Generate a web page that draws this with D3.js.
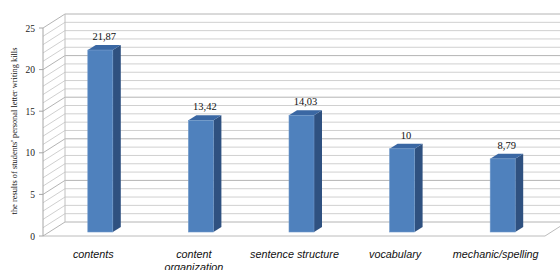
<!DOCTYPE html>
<html>
<head>
<meta charset="utf-8">
<script src="https://cdn.jsdelivr.net/npm/d3@7"></script>
<style>
  body { margin: 0; background: #fff; }
  svg { display: block; }
</style>
</head>
<body>
<svg id="chart" width="560" height="270"></svg>
<script>
// data
const categories = ["contents", "content organization", "sentence structure", "vocabulary", "mechanic/spelling"];
const scores = [21.87, 13.42, 14.03, 10, 8.79];
const valueLabels = ["21,87", "13,42", "14,03", "10", "8,79"];
const yTicks = [0, 5, 10, 15, 20, 25];
const yTitle = "the results of students' personal letter writing kills";

const svg = d3.select("#chart");

// 3d depth offset (front -> back wall)
const DX = 22, DY = -14;

let x = d3.scaleBand().domain(categories).range([43, 546]);
let y = d3.scaleLinear().domain([0, 25]).range([236, 28]);

// gridlines every unit, back wall + side wall
let grid = d3.range(0, 26);
let walls = svg.append("g");
walls.selectAll("line.back").data(grid).enter().append("line")
    .attr("x1", 43 + DX).attr("x2", 560)
    .attr("y1", d => y(d) + DY).attr("y2", d => y(d) + DY)
    .attr("stroke", d => d % 5 == 0 ? "#b4b4b4" : "#d0d0d0")
    .attr("stroke-width", 1);
walls.selectAll("line.side").data(grid).enter().append("line")
    .attr("x1", 43).attr("x2", 43 + DX)
    .attr("y1", d => y(d)).attr("y2", d => y(d) + DY)
    .attr("stroke", d => d % 5 == 0 ? "#b4b4b4" : "#d0d0d0");

// wall edges and floor
walls.append("line").attr("x1", 43 + DX).attr("x2", 43 + DX)
    .attr("y1", y(25) + DY).attr("y2", y(0) + DY).attr("stroke", "#c0c0c0");
walls.append("path")
    .attr("d", `M43,${y(0)}L545,${y(0)}L${545 + DX},${y(0) + DY}`)
    .attr("fill", "none").attr("stroke", "#bcbcbc");

// y axis
svg.append("line").attr("x1", 43).attr("x2", 43)
    .attr("y1", y(25)).attr("y2", y(0)).attr("stroke", "#a6a6a6");
svg.selectAll("line.tick").data(yTicks).enter().append("line")
    .attr("x1", 39).attr("x2", 43)
    .attr("y1", d => y(d)).attr("y2", d => y(d)).attr("stroke", "#a6a6a6");
svg.selectAll("text.ytick").data(yTicks).enter().append("text")
    .attr("x", 35).attr("y", d => y(d) + 3.5)
    .attr("text-anchor", "end")
    .style("font-family", "Liberation Serif, serif").style("font-size", "9.5px")
    .attr("fill", "#222")
    .text(d => d);

svg.append("text")
    .attr("transform", "translate(17,131) rotate(-90)")
    .attr("text-anchor", "middle")
    .style("font-family", "Liberation Serif, serif").style("font-size", "8.4px")
    .attr("fill", "#111")
    .text(yTitle);

// bars: front, side, top faces
const bw = 25, bdx = 8, bdy = -5, offX = 7, offY = -4;
let bars = svg.append("g");
categories.forEach((c, i) => {
    let x0 = x(c) + x.bandwidth() / 2 - bw / 2 + offX;
    let x1 = x0 + bw;
    let yb = y(0) + offY;
    let yt = y(scores[i]) + offY;
    bars.append("path")
        .attr("d", `M${x1},${yt}L${x1 + bdx},${yt + bdy}L${x1 + bdx},${yb + bdy}L${x1},${yb}Z`)
        .attr("fill", "#2f5180");
    bars.append("path")
        .attr("d", `M${x0},${yt}L${x0 + bdx},${yt + bdy}L${x1 + bdx},${yt + bdy}L${x1},${yt}Z`)
        .attr("fill", "#3a67a3");
    bars.append("rect")
        .attr("x", x0).attr("y", yt).attr("width", bw).attr("height", yb - yt)
        .attr("fill", "#4f81bd").attr("stroke", "#6f98c9").attr("stroke-width", 0.6);
    bars.append("text")
        .attr("x", x0 + bw / 2 + bdx / 2).attr("y", yt + bdy - 5)
        .attr("text-anchor", "middle")
        .style("font-family", "Liberation Serif, serif").style("font-size", "10.5px")
        .attr("fill", "#111")
        .text(valueLabels[i]);
});

// category labels
let catLabels = svg.selectAll("text.cat").data(categories).enter().append("text")
    .attr("text-anchor", "middle")
    .style("font-family", "Liberation Sans, sans-serif").style("font-style", "italic")
    .style("font-size", "10.8px").attr("fill", "#111");
catLabels.each(function(d) {
    let cx = x(d) + x.bandwidth() / 2;
    let words = d == "content organization" ? ["content", "organization"] : [d];
    words.forEach((w, k) => {
        d3.select(this).append("tspan").attr("x", cx).attr("y", 258 + k * 13).text(w);
    });
});
</script>
</body>
</html>
